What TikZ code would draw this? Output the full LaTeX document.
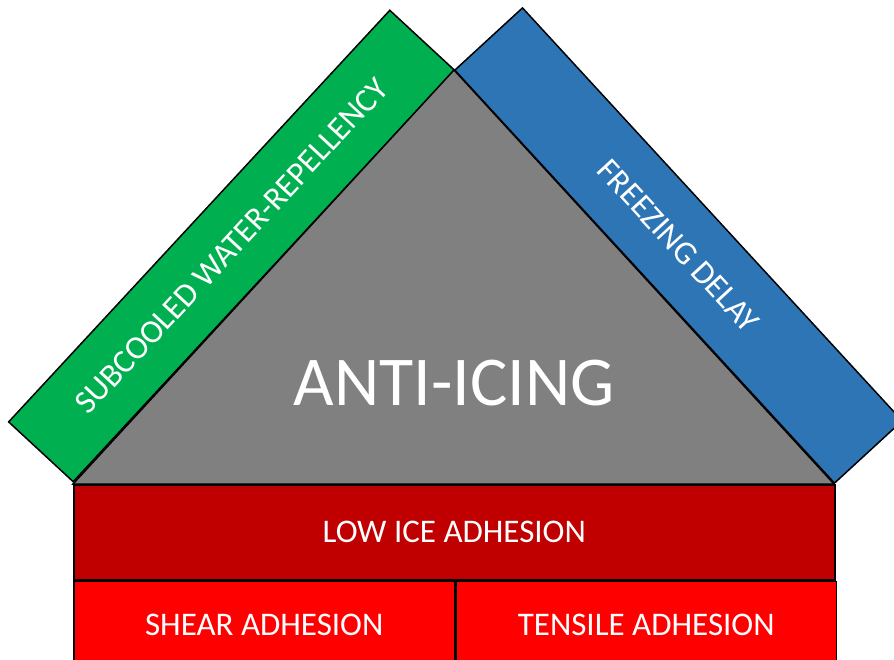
\documentclass[tikz,border=0pt]{standalone}
\usepackage{fontspec}
\setmainfont{Carlito}
\usepackage{tikz}
\usetikzlibrary{positioning}
\definecolor{barGreen}{HTML}{00B050}
\definecolor{barBlue}{HTML}{2E75B6}
\definecolor{roofGray}{HTML}{808080}
\definecolor{baseRed}{HTML}{C00000}
\definecolor{subRed}{HTML}{FF0000}
\tikzset{
  block/.style={draw=black, line width=1.5pt, text=white, inner sep=0pt,
    font=\fontsize{33}{36}\selectfont},
}

\begin{document}
\begin{tikzpicture}[x=1pt, y=-1pt]
\useasboundingbox (0,0) rectangle (894,660);

% slanted bars on both sides of the roof
\node[block, fill=barGreen, minimum width=561pt, minimum height=88pt, rotate=47.2] (repel) at (231.5,246) {SUBCOOLED WATER-REPELLENCY};
\node[block, fill=barBlue, minimum width=561pt, minimum height=92pt, rotate=-47.4] (delay) at (678.5,245.5) {FREEZING DELAY};

% roof
\draw[line width=1.5pt, fill=roofGray] (73,484) -- (454,70) -- (834,484) -- cycle;
\node[text=white, font=\fontsize{70}{80}\selectfont] (anti) at (454,383) {ANTI-ICING};

% base rows
\node[block, fill=baseRed, anchor=north west, minimum width=761pt, minimum height=95pt] (low) at (73,484) {LOW ICE ADHESION};
\node[block, fill=subRed, anchor=north west, minimum width=381pt, minimum height=88pt] (shear) at (low.south west) {SHEAR ADHESION};
\node[block, fill=subRed, anchor=north west, minimum width=380pt, minimum height=88pt] (tensile) at (shear.north east) {TENSILE ADHESION};
\end{tikzpicture}
\end{document}
